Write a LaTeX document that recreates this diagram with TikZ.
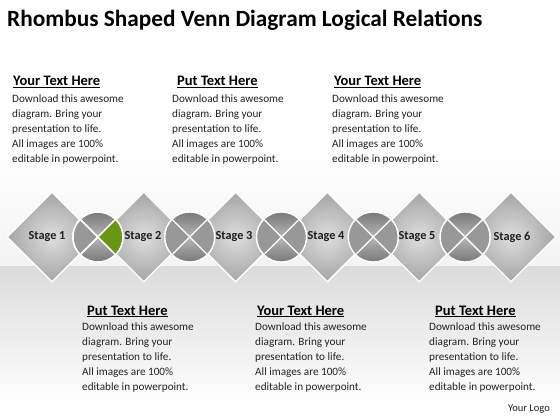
\documentclass[tikz,border=0pt]{standalone}
\usepackage{fontspec}
\setmainfont{Carlito}
\usetikzlibrary{shapes.geometric}
\definecolor{greenq}{RGB}{104,150,20}
\definecolor{txt}{RGB}{35,35,35}
\definecolor{lbl}{RGB}{30,30,30}
\definecolor{qdark}{RGB}{108,108,108}
\definecolor{qlight}{RGB}{182,182,182}
\definecolor{qside}{RGB}{152,152,152}
\definecolor{dinner}{RGB}{222,222,222}
\definecolor{douter}{RGB}{165,165,165}
\begin{document}
\begin{tikzpicture}[x=1pt,y=-1pt,
  stagebox/.style={diamond,aspect=1,minimum width=90pt,minimum height=90pt,inner sep=0pt,
    draw=white,line width=1.3pt,inner color=dinner,outer color=douter},
  ring/.style={circle,minimum size=50pt,inner sep=0pt,draw=white,line width=1.3pt},
  stagelbl/.style={font=\fontsize{12.3}{14}\selectfont\bfseries,text=lbl,inner sep=0pt},
  head/.style={anchor=base west,inner sep=0pt,font=\fontsize{14.5}{16}\selectfont\bfseries,text=black},
  body/.style={anchor=north west,inner sep=0pt,align=left,font=\fontsize{11.2}{15}\selectfont,text=txt},
  xline/.style={draw=white,line width=1.3pt}
]
\useasboundingbox (0,0) rectangle (560,420);
% background
\fill[white] (0,0) rectangle (560,420);
\fill[top color=white,bottom color=gray!9] (0,140) rectangle (560,266);
\fill[top color=gray!28,bottom color=white] (0,266) rectangle (560,405);

% title
\node[anchor=base west,inner sep=0pt,font=\fontsize{23.3}{27}\selectfont\bfseries] (title) at (7,27)
  {Rhombus Shaped Venn Diagram Logical Relations};

% diamonds
\foreach \i/\x in {1/52,2/143.8,3/235.6,4/327.4,5/419.2,6/511}{
  \node[stagebox] (d\i) at (\x,237) {};
}
% circles
\foreach \i/\x in {1/97.9,2/189.7,3/281.5,4/373.3,5/465.1}{
  \node[ring] (c\i) at (\x,237) {};
  \begin{scope}
    \clip (c\i.center) circle[radius=24.5pt];
    \fill[top color=qdark,bottom color=qlight] (c\i.center) -- ++(-30,-30) -- ++(60,0) -- cycle;
    \fill[top color=qlight,bottom color=qdark] (c\i.center) -- ++(-30,30) -- ++(60,0) -- cycle;
    \fill[qside] (c\i.center) -- ++(-30,-30) -- ++(0,60) -- cycle;
    \fill[qside] (c\i.center) -- ++(30,-30) -- ++(0,60) -- cycle;
  \end{scope}
  \draw[xline] (c\i.45) -- (c\i.225);
  \draw[xline] (c\i.135) -- (c\i.315);
  \draw[white,line width=1.3pt] (c\i.center) circle[radius=25pt];
}
% green quadrant
\begin{scope}
  \clip (c1.center) circle[radius=24.5pt];
  \fill[greenq] (c1.center) -- ++(30,-30) -- ++(0,60) -- cycle;
\end{scope}
\draw[xline] (c1.45) -- (c1.225);
\draw[xline] (c1.135) -- (c1.315);
\draw[white,line width=1.3pt] (c1.center) circle[radius=25pt];

% stage labels
\node[stagelbl] (l1) at (47,237) {Stage 1};
\node[stagelbl] (l2) at (143,237) {Stage 2};
\node[stagelbl] (l3) at (234,237) {Stage 3};
\node[stagelbl] (l4) at (326,237) {Stage 4};
\node[stagelbl] (l5) at (417,237) {Stage 5};
\node[stagelbl] (l6) at (512,237) {Stage 6};

% top texts
\node[head] (h1) at (13,86) {\underline{Your Text Here}};
\node[head] (h2) at (177,86) {\underline{Put Text Here}};
\node[head] (h3) at (334,86) {\underline{Your Text Here}};
\node[body] (b1) at (12,94.5) {Download this awesome\\diagram. Bring your\\presentation to life.\\All images are 100\%\\editable in powerpoint.};
\node[body] (b2) at (172,94.5) {Download this awesome\\diagram. Bring your\\presentation to life.\\All images are 100\%\\editable in powerpoint.};
\node[body] (b3) at (332,94.5) {Download this awesome\\diagram. Bring your\\presentation to life.\\All images are 100\%\\editable in powerpoint.};

% bottom texts
\node[head] (h4) at (87,315) {\underline{Put Text Here}};
\node[head] (h5) at (257,315) {\underline{Your Text Here}};
\node[head] (h6) at (435,315) {\underline{Put Text Here}};
\node[body] (b4) at (82,322.5) {Download this awesome\\diagram. Bring your\\presentation to life.\\All images are 100\%\\editable in powerpoint.};
\node[body] (b5) at (255,322.5) {Download this awesome\\diagram. Bring your\\presentation to life.\\All images are 100\%\\editable in powerpoint.};
\node[body] (b6) at (429,322.5) {Download this awesome\\diagram. Bring your\\presentation to life.\\All images are 100\%\\editable in powerpoint.};

\node[anchor=base east,inner sep=0pt,font=\fontsize{10.5}{12}\selectfont,text=txt] (logo) at (550,411) {Your Logo};
\end{tikzpicture}
\end{document}
